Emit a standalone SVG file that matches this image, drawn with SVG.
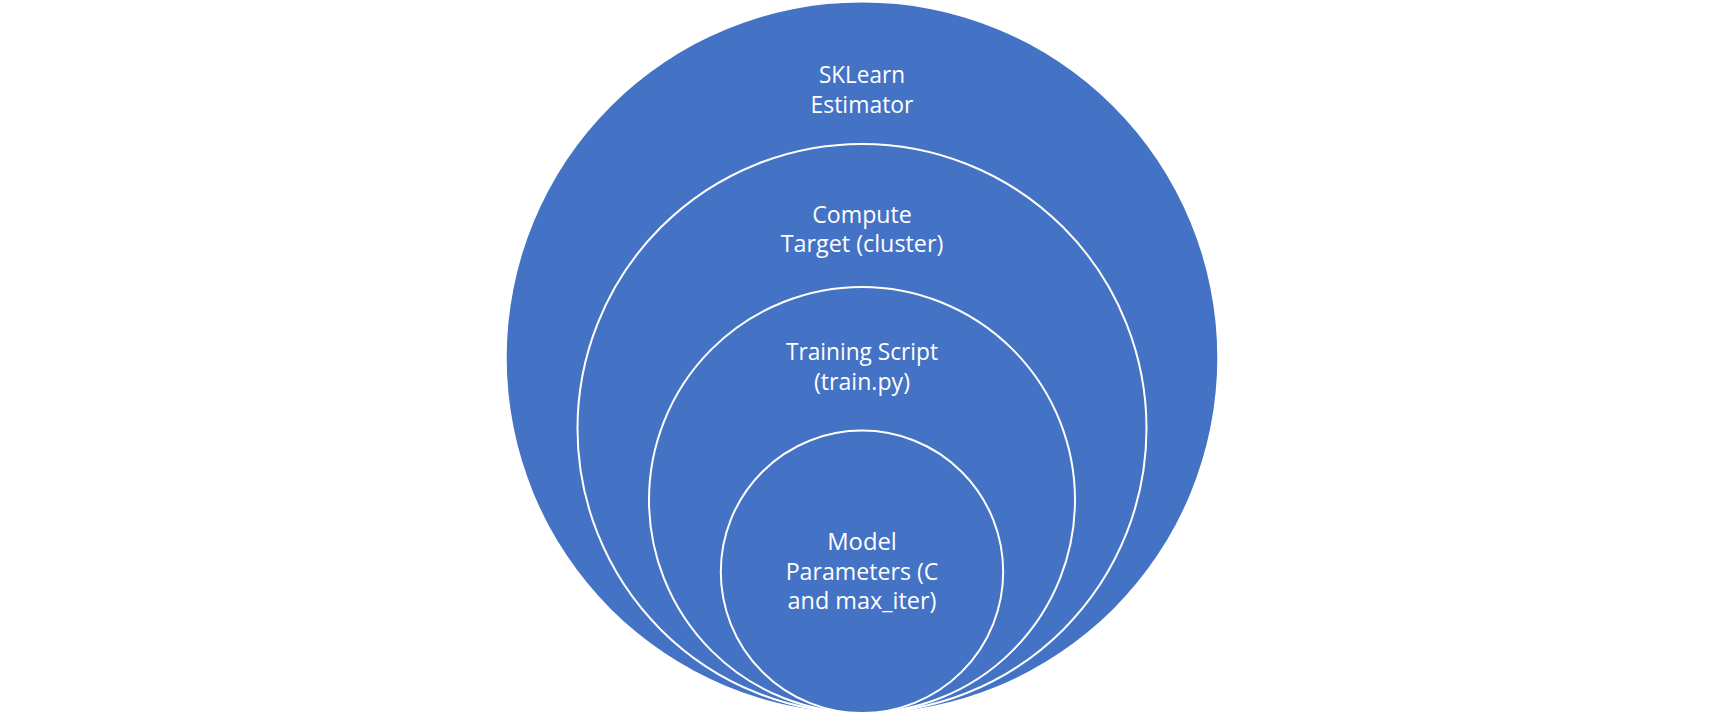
<svg xmlns="http://www.w3.org/2000/svg" width="1725" height="716" viewBox="0 0 1725 716">
<style>
.c{fill:#4472C4;stroke:#FFFFFF;stroke-width:2}
.o{fill:#4472C4}
.t{font-family:"Open Sans","Noto Sans","Liberation Sans",sans-serif;font-size:23px;fill:#FFFFFF;text-anchor:middle}
</style>
<rect width="1725" height="716" fill="#FFFFFF"/>
<g id="sklearn-estimator">
<circle class="o" cx="862" cy="357.7" r="355.3"/>
<text class="t" x="862" y="82.5" textLength="86" lengthAdjust="spacingAndGlyphs">SKLearn</text>
<text class="t" x="862" y="113" textLength="103" lengthAdjust="spacingAndGlyphs">Estimator</text>
</g>
<g id="compute-target">
<circle class="c" cx="862" cy="428.5" r="284.5"/>
<text class="t" x="862" y="222.5" textLength="99.5" lengthAdjust="spacingAndGlyphs">Compute</text>
<text class="t" x="862" y="252" textLength="162.7" lengthAdjust="spacingAndGlyphs">Target (cluster)</text>
</g>
<g id="training-script">
<circle class="c" cx="862" cy="500" r="213"/>
<text class="t" x="862" y="359.5" textLength="152" lengthAdjust="spacingAndGlyphs">Training Script</text>
<text class="t" x="862" y="390" textLength="96" lengthAdjust="spacingAndGlyphs">(train.py)</text>
</g>
<g id="model-parameters">
<circle class="c" cx="862" cy="571.8" r="141.2"/>
<text class="t" x="862" y="550" textLength="69.7" lengthAdjust="spacingAndGlyphs">Model</text>
<text class="t" x="862" y="580" textLength="152.7" lengthAdjust="spacingAndGlyphs">Parameters (C</text>
<text class="t" x="862" y="609" textLength="149" lengthAdjust="spacingAndGlyphs">and max_iter)</text>
</g>
<g id="connectors"></g>
</svg>
